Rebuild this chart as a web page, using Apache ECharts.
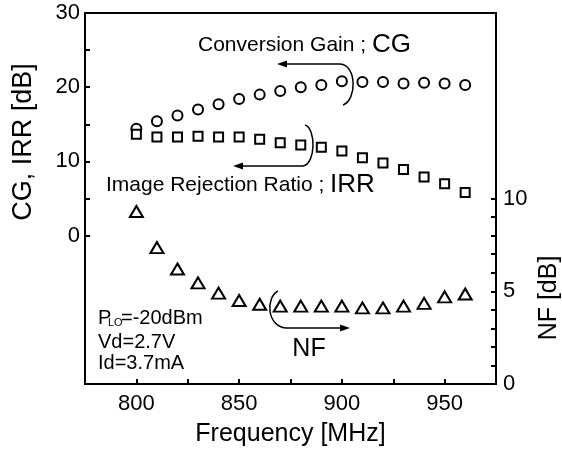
<!DOCTYPE html>
<html>
<head>
<meta charset="utf-8">
<script src="https://cdn.jsdelivr.net/npm/echarts@6/dist/echarts.min.js"></script>
<style>
  html, body { margin: 0; padding: 0; background: #fff; }
  #chart { width: 562px; height: 452px; }
</style>
</head>
<body>
<div id="chart"></div>
<script>
// frequency points [MHz]
const freq = [800, 810, 820, 830, 840, 850, 860, 870, 880, 890, 900, 910, 920, 930, 940, 950, 960];
// conversion gain [dB] (left axis)
const cg = [14.4, 15.4, 16.2, 17.0, 17.7, 18.4, 19.0, 19.5, 20.0, 20.3, 20.8, 20.7, 20.7, 20.5, 20.6, 20.5, 20.3];
// image rejection ratio [dB] (left axis)
const irr = [13.65, 13.3, 13.3, 13.4, 13.3, 13.3, 13.0, 12.5, 12.2, 11.9, 11.4, 10.5, 9.8, 8.9, 7.9, 7.0, 5.8];
// noise figure [dB] (right axis)
const nf = [9.3, 7.35, 6.2, 5.45, 4.9, 4.5, 4.3, 4.2, 4.2, 4.2, 4.2, 4.1, 4.1, 4.2, 4.35, 4.7, 4.85];

const xTicks = [800, 825, 850, 875, 900, 925, 950];
const xLabels = [800, 850, 900, 950];
const leftTicks = [0, 5, 10, 15, 20, 25, 30];
const leftLabels = [0, 10, 20, 30];
const rightTicks = [0, 1, 2, 3, 4, 5, 6, 7, 8, 9, 10];
const rightLabels = [0, 5, 10];

const FONT = "'Liberation Sans', Arial, sans-serif";

function pairs(ys) {
  return freq.map((f, i) => [f, ys[i]]);
}

const chart = echarts.init(document.getElementById("chart"));

const markerStyle = {
  color: "#fff",
  borderColor: "#000",
  borderWidth: 2,
  opacity: 1,
};
const annoLine = { stroke: "#000", lineWidth: 1.5, fill: "none" };

const option = {
  animation: false,
  backgroundColor: "#fff",
  grid: {
    left: 85,
    right: 66,
    top: 13,
    bottom: 67,
    show: true,
    borderColor: "#000",
    borderWidth: 2,
    backgroundColor: "transparent",
  },
  xAxis: {
    type: "value",
    min: 775,
    max: 975,
    name: "Frequency [MHz]",
    nameLocation: "middle",
    nameGap: 38,
    nameTextStyle: { color: "#000", fontSize: 25, fontFamily: FONT },
    axisLine: { show: true, onZero: false, lineStyle: { color: "#000", width: 2 } },
    axisTick: { show: true, inside: true, length: 5, customValues: xTicks, lineStyle: { color: "#000", width: 2 } },
    axisLabel: { customValues: xLabels, color: "#000", fontSize: 22, fontFamily: FONT, margin: 9 },
    splitLine: { show: false },
  },
  yAxis: [
    {
      type: "value",
      min: -20,
      max: 30,
      position: "left",
      axisLine: { show: true, onZero: false, lineStyle: { color: "#000", width: 2 } },
      axisTick: { show: true, inside: true, length: 5, customValues: leftTicks, lineStyle: { color: "#000", width: 2 } },
      axisLabel: { customValues: leftLabels, color: "#000", fontSize: 22, fontFamily: FONT, margin: 5 },
      splitLine: { show: false },
    },
    {
      type: "value",
      min: 0,
      max: 20,
      position: "right",
      axisLine: { show: true, onZero: false, lineStyle: { color: "#000", width: 2 } },
      axisTick: { show: true, inside: true, length: 5, customValues: rightTicks, lineStyle: { color: "#000", width: 2 } },
      axisLabel: { customValues: rightLabels, color: "#000", fontSize: 22, fontFamily: FONT, margin: 7 },
      splitLine: { show: false },
    },
  ],
  series: [
    {
      name: "CG",
      type: "scatter",
      yAxisIndex: 0,
      symbol: "circle",
      symbolSize: 10,
      itemStyle: markerStyle,
      data: pairs(cg),
    },
    {
      name: "IRR",
      type: "scatter",
      yAxisIndex: 0,
      symbol: "rect",
      symbolSize: 9,
      itemStyle: markerStyle,
      data: pairs(irr),
    },
    {
      name: "NF",
      type: "scatter",
      yAxisIndex: 1,
      symbol: "triangle",
      symbolSize: [13, 11],
      itemStyle: markerStyle,
      data: pairs(nf),
    },
  ],
  graphic: [
    // axis titles
    {
      type: "text",
      x: 24,
      y: 142,
      rotation: Math.PI / 2,
      style: { text: "CG, IRR [dB]", fontSize: 27, fontFamily: FONT, fill: "#000", align: "center", verticalAlign: "middle" },
    },
    {
      type: "text",
      x: 549,
      y: 298,
      rotation: Math.PI / 2,
      style: { text: "NF [dB]", fontSize: 25, fontFamily: FONT, fill: "#000", align: "center", verticalAlign: "middle" },
    },
    // CG annotation
    {
      type: "text",
      x: 198,
      y: 45,
      style: {
        text: "Conversion Gain ; {b|CG}",
        fontSize: 21,
        fontFamily: FONT,
        fill: "#000",
        verticalAlign: "middle",
        rich: { b: { fontSize: 26, fontFamily: FONT, fill: "#000" } },
      },
    },
    { type: "line", shape: { x1: 284, y1: 64, x2: 340, y2: 64 }, style: annoLine },
    { type: "bezierCurve", shape: { x1: 340, y1: 64, cpx1: 357, cpy1: 65, cpx2: 357, cpy2: 100, x2: 343, y2: 105 }, style: annoLine },
    { type: "polygon", shape: { points: [[277, 64], [287, 60.5], [287, 67.5]] }, style: { fill: "#000" } },
    // IRR annotation
    {
      type: "text",
      x: 106,
      y: 185,
      style: {
        text: "Image Rejection Ratio ; {b|IRR}",
        fontSize: 21,
        fontFamily: FONT,
        fill: "#000",
        verticalAlign: "middle",
        rich: { b: { fontSize: 26, fontFamily: FONT, fill: "#000" } },
      },
    },
    { type: "line", shape: { x1: 240, y1: 166, x2: 303, y2: 166 }, style: annoLine },
    { type: "bezierCurve", shape: { x1: 303, y1: 166, cpx1: 316, cpy1: 164, cpx2: 316, cpy2: 128, x2: 305, y2: 125 }, style: annoLine },
    { type: "polygon", shape: { points: [[233, 166], [243, 162.5], [243, 169.5]] }, style: { fill: "#000" } },
    // NF annotation
    {
      type: "text",
      x: 309,
      y: 349,
      style: { text: "NF", fontSize: 25, fontFamily: FONT, fill: "#000", align: "center", verticalAlign: "middle" },
    },
    { type: "bezierCurve", shape: { x1: 278, y1: 291, cpx1: 266, cpy1: 297, cpx2: 266, cpy2: 326, x2: 286, y2: 328 }, style: annoLine },
    { type: "line", shape: { x1: 286, y1: 328, x2: 343, y2: 328 }, style: annoLine },
    { type: "polygon", shape: { points: [[350, 328], [340, 324.5], [340, 331.5]] }, style: { fill: "#000" } },
    // bias conditions
    { type: "text", x: 98, y: 318, style: { text: "P", fontSize: 20, fontFamily: FONT, fill: "#000", verticalAlign: "middle" } },
    { type: "text", x: 108, y: 323, style: { text: "LO", fontSize: 11, fontFamily: FONT, fill: "#000", verticalAlign: "middle" } },
    { type: "text", x: 121, y: 318, style: { text: "=-20dBm", fontSize: 20, fontFamily: FONT, fill: "#000", verticalAlign: "middle" } },
    { type: "text", x: 98, y: 342, style: { text: "Vd=2.7V", fontSize: 20, fontFamily: FONT, fill: "#000", verticalAlign: "middle" } },
    { type: "text", x: 98, y: 363, style: { text: "Id=3.7mA", fontSize: 20, fontFamily: FONT, fill: "#000", verticalAlign: "middle" } },
  ],
};

chart.setOption(option);
</script>
</body>
</html>
